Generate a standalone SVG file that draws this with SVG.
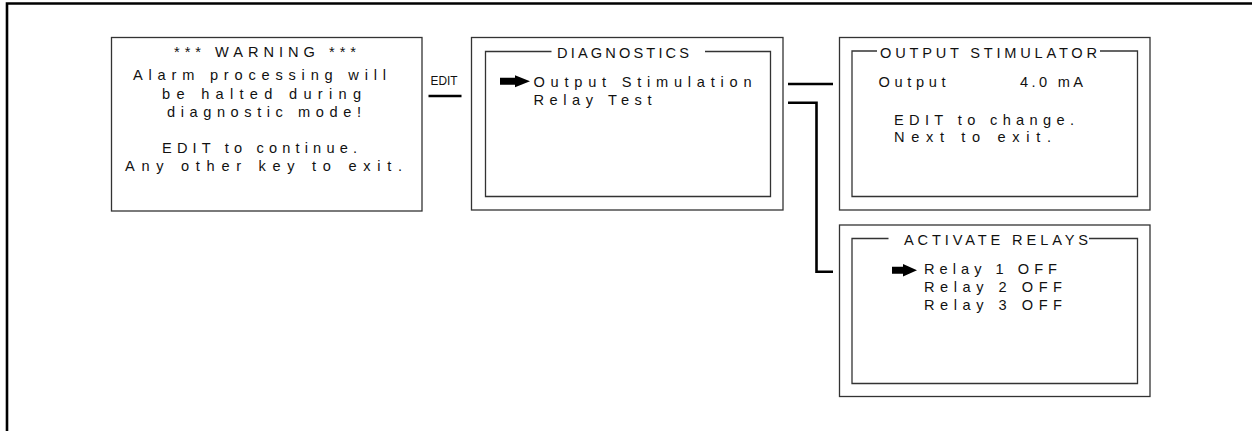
<svg xmlns="http://www.w3.org/2000/svg" width="1252" height="431" viewBox="0 0 1252 431">
<style>
.box{fill:none;stroke:#333;stroke-width:1.3}
.inner{fill:none;stroke:#333;stroke-width:1.3}
.conn{fill:none;stroke:#000;stroke-width:2.6}
.frame{fill:none;stroke:#000;stroke-width:2.6}
text{font-family:"Liberation Sans",Arial,sans-serif;font-size:14.6px;fill:#111}
.small{font-size:12px}
.arrow{fill:#000}
</style>
<rect width="1252" height="431" fill="#fff"/>
<path class="frame" d="M7,431 V3.5 H1252"/>

<g id="warning">
<rect class="box" x="111.5" y="37.5" width="310.5" height="173.5"/>
<text x="174" y="57" textLength="182" lengthAdjust="spacing">*** WARNING ***</text>
<text x="133" y="80" textLength="253" lengthAdjust="spacing">Alarm processing will</text>
<text x="162" y="98.5" textLength="199" lengthAdjust="spacing">be halted during</text>
<text x="167" y="116.5" textLength="194" lengthAdjust="spacing">diagnostic mode!</text>
<text x="162" y="153" textLength="195" lengthAdjust="spacing">EDIT to continue.</text>
<text x="125" y="170.5" textLength="277" lengthAdjust="spacing">Any other key to exit.</text>
</g>

<g id="diagnostics">
<rect class="box" x="471.5" y="37.5" width="311.5" height="172.5"/>
<path class="inner" d="M551.5,51.5 H485.5 V196.5 H770.5 V51.5 H705"/>
<text x="557" y="58" textLength="132" lengthAdjust="spacing">DIAGNOSTICS</text>
<path class="arrow" d="M500,77.8 H515 V75.3 L530,81.3 L515,87.3 V84.8 H500 Z"/>
<text x="533.5" y="87.3" textLength="218" lengthAdjust="spacing">Output Stimulation</text>
<text x="533.5" y="105" textLength="118" lengthAdjust="spacing">Relay Test</text>
</g>

<g id="output-stimulator">
<rect class="box" x="839.5" y="37.5" width="310.5" height="172.5"/>
<path class="inner" d="M877,51 H852 V196.5 H1137.5 V51 H1100"/>
<text x="880" y="58" textLength="217" lengthAdjust="spacing">OUTPUT STIMULATOR</text>
<text x="878.5" y="87.3" textLength="67" lengthAdjust="spacing">Output</text>
<text x="1020" y="87.3" textLength="63" lengthAdjust="spacing">4.0 mA</text>
<text x="894" y="125" textLength="180" lengthAdjust="spacing">EDIT to change.</text>
<text x="894" y="141.7" textLength="157" lengthAdjust="spacing">Next to exit.</text>
</g>

<g id="activate-relays">
<rect class="box" x="839.5" y="225" width="310.5" height="171.5"/>
<path class="inner" d="M888.5,238.5 H852 V383.5 H1137.5 V238.5 H1089"/>
<text x="904" y="245" textLength="184" lengthAdjust="spacing">ACTIVATE RELAYS</text>
<path class="arrow" d="M892,266.8 H903 V264 L917,270.3 L903,276.6 V273.8 H892 Z"/>
<text x="924" y="274.3" textLength="133" lengthAdjust="spacing">Relay 1 OFF</text>
<text x="924" y="292.3" textLength="138" lengthAdjust="spacing">Relay 2 OFF</text>
<text x="924" y="310" textLength="138" lengthAdjust="spacing">Relay 3 OFF</text>
</g>

<g id="connectors">
<path class="conn" d="M428.5,96 H461.5"/>
<text class="small" x="430.5" y="85" textLength="27" lengthAdjust="spacingAndGlyphs">EDIT</text>
<path class="conn" d="M788,84 H833"/>
<path class="conn" d="M788,102.7 H816.5 V271.7 H833"/>
</g>
</svg>
